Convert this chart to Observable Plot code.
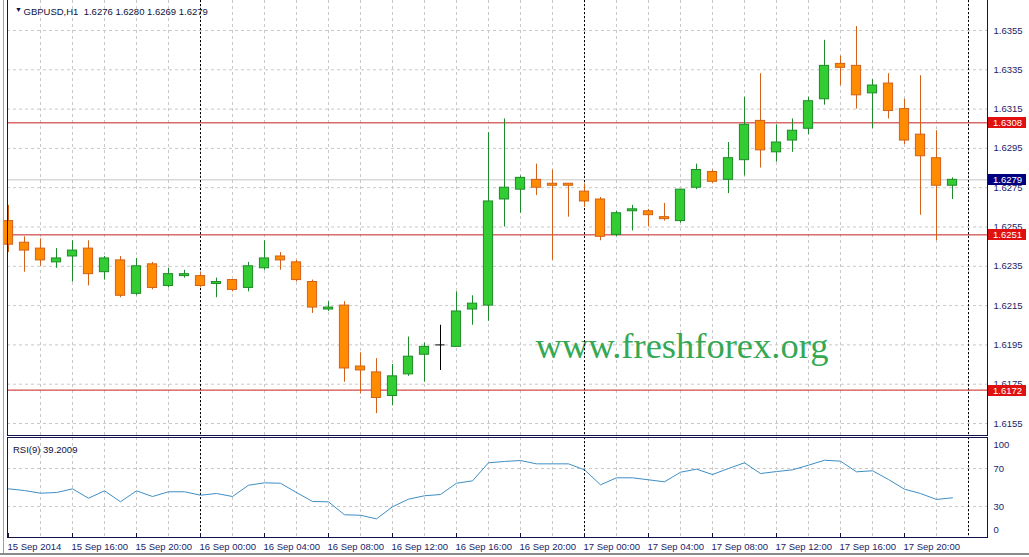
<!DOCTYPE html>
<html><head><meta charset="utf-8">
<script src="https://cdn.jsdelivr.net/npm/d3@7"></script>
<script src="https://cdn.jsdelivr.net/npm/@observablehq/plot@0.6"></script>
<style>
body{margin:0;background:#fff;}
#wrap{position:relative;width:1029px;height:557px;overflow:hidden;background:#fff;}
#wrap svg{position:absolute;left:0;}
.edge{position:absolute;background:#a0a0a0;}
</style></head><body><div id="wrap"></div>
<script>
// ---------- data ----------
const symbol = "GBPUSD,H1";
const startTime = "2014-09-15T12:00:00Z"; // first hourly bar
const opens = [1.6258,1.6247,1.6244,1.6237,1.6240,1.6244,1.6232,1.6238,1.6221,1.6236,
  1.6225,1.6230,1.6230,1.6226,1.6228,1.6224,1.6234,1.6240,1.6237,1.6227,
  1.6213,1.6215,1.6184,1.6181,1.6169,1.6180,1.6190,1.6195,1.6194,1.6213,
  1.6215,1.6269,1.6274,1.6279,1.6277,1.6277,1.6273,1.6269,1.6251,1.6263,
  1.6263,1.6260,1.6258,1.6275,1.6283,1.6279,1.6289,1.6309,1.6293,1.6299,
  1.6305,1.6320,1.6338,1.6337,1.6323,1.6328,1.6315,1.6302,1.6290,1.6276];
const highs = [1.6266,1.6250,1.6249,1.6244,1.6248,1.6248,1.6240,1.6240,1.6239,1.6237,
  1.6234,1.6233,1.6232,1.6229,1.6228,1.6237,1.6248,1.6242,1.6238,1.6228,
  1.6217,1.6217,1.6191,1.6188,1.6185,1.6199,1.6196,1.6205,1.6222,1.6220,
  1.6303,1.6310,1.6281,1.6287,1.6284,1.6277,1.6277,1.6270,1.6263,1.6266,
  1.6264,1.6267,1.6274,1.6287,1.6284,1.6298,1.6321,1.6333,1.6307,1.6310,
  1.6321,1.6350,1.6342,1.6357,1.6330,1.6333,1.6320,1.6332,1.6304,1.6280];
const lows = [1.6242,1.6232,1.6235,1.6234,1.6227,1.6225,1.6228,1.6219,1.6220,1.6223,
  1.6224,1.6229,1.6224,1.6219,1.6222,1.6222,1.6233,1.6233,1.6227,1.6211,
  1.6212,1.6176,1.6170,1.6160,1.6164,1.6179,1.6176,1.6182,1.6194,1.6205,
  1.6207,1.6255,1.6262,1.6271,1.6238,1.6260,1.6265,1.6248,1.6250,1.6253,
  1.6255,1.6258,1.6257,1.6274,1.6277,1.6272,1.6281,1.6285,1.6288,1.6293,
  1.6302,1.6317,1.6327,1.6315,1.6305,1.6310,1.6297,1.6261,1.6248,1.6269];
const closes = [1.6246,1.6243,1.6238,1.6239,1.6243,1.6231,1.6239,1.6220,1.6235,1.6224,
  1.6231,1.6231,1.6225,1.6227,1.6223,1.6235,1.6239,1.6238,1.6228,1.6214,
  1.6214,1.6183,1.6182,1.6168,1.6179,1.6189,1.6194,1.6195,1.6212,1.6216,
  1.6268,1.6275,1.6280,1.6275,1.6276,1.6276,1.6268,1.6250,1.6262,1.6264,
  1.6261,1.6259,1.6274,1.6284,1.6278,1.6290,1.6307,1.6294,1.6298,1.6304,
  1.6319,1.6337,1.6336,1.6322,1.6327,1.6314,1.6299,1.6291,1.6276,1.6279];
const rsiValues = [48.6,46.8,44.0,44.7,48.6,38.7,46.5,35.0,46.5,40.5,
  45.5,45.5,41.9,43.7,40.5,52.4,54.9,54.5,44.7,35.3,
  34.9,21.3,20.8,17.0,29.7,37.7,41.3,42.6,54.5,57.0,
  76.0,77.4,78.4,74.9,74.9,74.9,68.6,52.8,60.2,60.2,
  58.1,56.0,66.1,69.3,63.7,70.0,76.0,64.7,66.8,68.6,
  73.5,78.7,77.7,66.5,67.6,58.4,48.2,43.7,37.4,39.2009];
const rsiPeriod = 9;
const levels = [1.6308, 1.6251, 1.6172];
const lastPrice = 1.6279;
const priceTicks = [1.6155,1.6175,1.6195,1.6215,1.6235,1.6255,1.6275,1.6295,1.6315,1.6335,1.6355];
const rsiGridTicks = [70, 30];
const rsiEdgeTicks = [100, 0];
const timeTickLabels = ["15 Sep 2014","15 Sep 16:00","15 Sep 20:00","16 Sep 00:00","16 Sep 04:00",
  "16 Sep 08:00","16 Sep 12:00","16 Sep 16:00","16 Sep 20:00","17 Sep 00:00","17 Sep 04:00",
  "17 Sep 08:00","17 Sep 12:00","17 Sep 16:00","17 Sep 20:00"];
const watermark = "www.freshforex.org";

// ---------- derived ----------
const HOUR = 3600e3;
const t0 = new Date(startTime);
const tAt = h => new Date(+t0 + h * HOUR);
const candles = opens.map((o, i) => ({t: tAt(i), o, h: highs[i], l: lows[i], c: closes[i]}));
const rsi = rsiValues.map((v, i) => ({t: tAt(i), v}));
const timeTicks = timeTickLabels.map((_, i) => tAt(i * 4));
const gridDates = d3.range(2, 61, 2).map(tAt);
const daySeps = [tAt(12), tAt(36), tAt(60)];
const last = candles[candles.length - 1];
const fmt4 = d3.format(".4f");
const titleText = symbol + "\u00a0\u00a0" + [last.o, last.h, last.l, last.c].map(fmt4).join(" ");

const FONT = "'Liberation Sans', Arial, sans-serif";
const TXT = "#1c1c66";
const GRID = "#c8c8c8";
const RED = "#c81e1e";
const BORDER = "#14144a";
const GREEN_F = "#32cd32", GREEN_S = "#1f8a2a";
const ORANGE_F = "#ff8c00", ORANGE_S = "#d2611a";
const bodyHalf = 4.6 / 16 * HOUR;

const xScale = {type: "utc", domain: [tAt(-1/16), tAt(979/16)], range: [7, 987]};
const pxPerUnit = 19650;
const yScale = {domain: [1.6355 - 406 / pxPerUnit, 1.6355 + 30 / pxPerUnit], range: [436, 0]};

const isUp = d => d.c > d.o, isDn = d => d.c < d.o;
const wickColor = d => isUp(d) ? GREEN_S : isDn(d) ? ORANGE_S : "#000";

const main = Plot.plot({
  width: 1029, height: 436,
  marginLeft: 7, marginRight: 42, marginTop: 0, marginBottom: 1,
  style: {fontFamily: FONT, fontSize: "9.5px", background: "transparent", overflow: "visible"},
  x: {...xScale, axis: null},
  y: yScale,
  marks: [
    Plot.gridY(priceTicks, {stroke: GRID, strokeOpacity: 1, strokeDasharray: "3,3"}),
    Plot.gridX(gridDates, {stroke: GRID, strokeOpacity: 1, strokeDasharray: "3,3"}),
    Plot.ruleY([lastPrice], {stroke: "#c4c4c4"}),
    Plot.text([watermark], {frameAnchor: "top-left", dx: 528, dy: 331.5, textAnchor: "start",
      fontSize: 36.5, fontFamily: "'Liberation Serif', 'Times New Roman', serif", fill: "#34a853"}),
    Plot.ruleX(daySeps, {stroke: "#000", strokeDasharray: "2,2"}),
    Plot.ruleY(levels, {stroke: RED}),
    Plot.ruleX(candles, {x: "t", y1: "l", y2: "h", stroke: wickColor}),
    Plot.rect(candles.filter(d => d.o !== d.c), {
      x1: d => new Date(+d.t - bodyHalf), x2: d => new Date(+d.t + bodyHalf),
      y1: "o", y2: "c",
      fill: d => isUp(d) ? GREEN_F : ORANGE_F,
      stroke: d => isUp(d) ? GREEN_S : ORANGE_S
    }),
    Plot.ruleY(candles.filter(d => d.o === d.c), {
      y: "o", x1: d => new Date(+d.t - bodyHalf), x2: d => new Date(+d.t + bodyHalf), stroke: "#000"
    }),
    Plot.axisY(priceTicks, {anchor: "right", tickSize: 0, tickPadding: 6, tickFormat: fmt4,
      fill: TXT, label: null, fontSize: 9.5}),
    Plot.ruleX(xScale.domain, {stroke: BORDER}),
    Plot.frame({anchor: "bottom", stroke: BORDER}),
    Plot.text(["\u25BC"], {frameAnchor: "top-left", dx: 7.5, dy: 7, fontSize: 7, fill: "#101040"}),
    Plot.text([titleText], {frameAnchor: "top-left", dx: 16, dy: 7.5, textAnchor: "start",
      fill: "#101040", fontSize: 9.5})
  ]
});
main.style.top = "0px";

// price tags on the right axis, positioned with the plot's own y scale
const ys = main.scale("y");
const tagLayer = d3.select(main).append("g").attr("font-family", FONT).attr("font-size", 9.5)
  .attr("text-anchor", "start");
function addTag(v, color) {
  const py = Math.round(ys.apply(v));
  tagLayer.append("rect").attr("x", 988).attr("y", py - 5).attr("width", 38).attr("height", 11).attr("fill", color);
  tagLayer.append("text").attr("x", 993).attr("y", py + 0.5).attr("dy", "0.35em")
    .attr("text-anchor", "start").attr("fill", "#fff").text(fmt4(v));
}
levels.forEach(v => addTag(v, "#e01010"));
addTag(lastPrice, "#000080");

const rsiPlot = Plot.plot({
  width: 1029, height: 120,
  marginLeft: 7, marginRight: 42, marginTop: 0, marginBottom: 20,
  style: {fontFamily: FONT, fontSize: "9.5px", background: "transparent", overflow: "visible"},
  x: xScale,
  y: {domain: [0, 100], range: [97.5, 2.5]},
  marks: [
    Plot.gridY(rsiGridTicks, {stroke: GRID, strokeOpacity: 1, strokeDasharray: "3,3"}),
    Plot.gridX(gridDates, {stroke: GRID, strokeOpacity: 1, strokeDasharray: "3,3"}),
    Plot.ruleX(daySeps, {stroke: "#000", strokeDasharray: "2,2"}),
    Plot.line(rsi, {x: "t", y: "v", stroke: "#3d8fc6", strokeWidth: 1}),
    Plot.frame({stroke: BORDER}),
    Plot.axisY(rsiGridTicks, {anchor: "right", tickSize: 0, tickPadding: 6, fill: TXT, label: null, fontSize: 9.5}),
    Plot.text([rsiEdgeTicks[0]], {x: xScale.domain[1], y: d => d, dx: 6, dy: 4.5, textAnchor: "start", fill: TXT, fontSize: 9.5}),
    Plot.text([rsiEdgeTicks[1]], {x: xScale.domain[1], y: d => d, dx: 6, dy: -5.5, textAnchor: "start", fill: TXT, fontSize: 9.5}),
    Plot.ruleX(timeTicks, {stroke: BORDER, insetTop: 96}),
    Plot.axisX(timeTicks, {anchor: "bottom", tickSize: 0, tickPadding: 6, textAnchor: "start", dx: -1,
      tickFormat: (d, i) => timeTickLabels[i], fill: TXT, label: null, fontSize: 9.5}),
    Plot.text([`RSI(${rsiPeriod}) ${rsiValues[rsiValues.length - 1].toFixed(4)}`], {frameAnchor: "top-left", dx: 5.5, dy: 9,
      textAnchor: "start", fill: "#101040", fontSize: 9.5})
  ]
});
rsiPlot.style.top = "437px";

const wrap = document.getElementById("wrap");
wrap.append(main, rsiPlot);
const e1 = document.createElement("div"); e1.className = "edge";
e1.style.cssText = "left:3px;top:0;width:1px;height:553px;";
const e2 = document.createElement("div"); e2.className = "edge";
e2.style.cssText = "left:0;top:553px;width:1029px;height:2px;background:#8a8a8a;";
wrap.append(e1, e2);
</script></body></html>
